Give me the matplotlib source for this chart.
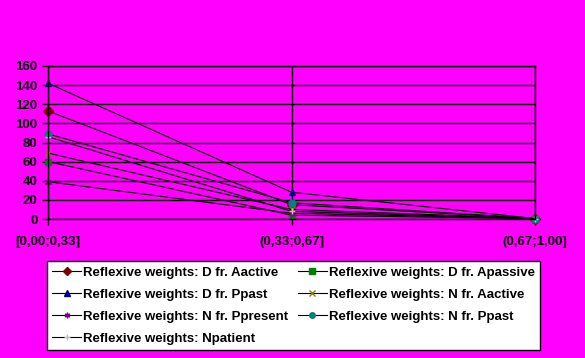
import matplotlib.pyplot as plt

plt.rcParams['font.family'] = ['Liberation Sans', 'DejaVu Sans']

categories = ['[0,00;0,33]', '(0,33;0,67]', '(0,67;1,00]']

d_aactive = [113, 15, 0.5]
d_apassive = [60, 4, 0.5]
d_ppast = [142, 28, 0.5]
n_aactive = [69, 10, 0.5]
n_ppresent = [39, 6, 0.5]
n_ppast = [89, 17, 0.5]
npatient = [86, 8, 0.5]

series = [
    ('Reflexive weights: D fr. Aactive', d_aactive, 'D', '#800000'),
    ('Reflexive weights: D fr. Apassive', d_apassive, 's', '#008000'),
    ('Reflexive weights: D fr. Ppast', d_ppast, '^', '#000080'),
    ('Reflexive weights: N fr. Aactive', n_aactive, 'x', '#808000'),
    ('Reflexive weights: N fr. Ppresent', n_ppresent, (6, 2, 0), '#800080'),
    ('Reflexive weights: N fr. Ppast', n_ppast, 'o', '#008080'),
    ('Reflexive weights: Npatient', npatient, '+', '#C0C0C0'),
]

bg = '#FF00FF'
fig = plt.figure(figsize=(5.85, 3.58), dpi=100, facecolor=bg)
ax = fig.add_axes([48 / 585, 1 - 219 / 358, (535 - 48) / 585, (219 - 66) / 358])
ax.set_facecolor(bg)

x = range(len(categories))
lines = []
for label, vals, mk, col in series:
    ln, = ax.plot(x, vals, color='black', lw=0.8, marker=mk, markersize=5,
                  markerfacecolor=col, markeredgecolor=col, label=label, clip_on=False)
    lines.append(ln)

ax.set_xlim(0, 2)
ax.set_ylim(0, 160)
ax.set_yticks(range(0, 161, 20))
ax.set_xticks(list(x))
ax.set_xticklabels(categories)
ax.grid(True, color='black', lw=1)
for s in ['left', 'bottom', 'right', 'top']:
    ax.spines[s].set_color('black')
    ax.spines[s].set_linewidth(1)
ax.tick_params(axis='both', length=4, width=1, color='black', labelsize=9.5)
ax.tick_params(axis='x', pad=8)
for t in ax.get_xticklabels() + ax.get_yticklabels():
    t.set_fontweight('bold')
ax.set_axisbelow(True)

# legend is filled row by row in the original
order = [0, 2, 4, 6, 1, 3, 5]
leg = fig.legend([lines[i] for i in order], [series[i][0] for i in order],
                 loc='upper left', bbox_to_anchor=(47 / 585, 1 - 261 / 358),
                 ncol=2, frameon=True, fancybox=False, framealpha=1,
                 prop={'size': 9.5, 'weight': 'bold'}, handlelength=2.2, handletextpad=0.15,
                 borderpad=0.4, labelspacing=0.75, columnspacing=0.7, borderaxespad=0,
                 markerscale=0.8)
leg.get_frame().set_edgecolor('black')
leg.get_frame().set_linewidth(1)
leg.get_frame().set_facecolor('white')

fig.savefig('out.png', dpi=100, facecolor=bg)
